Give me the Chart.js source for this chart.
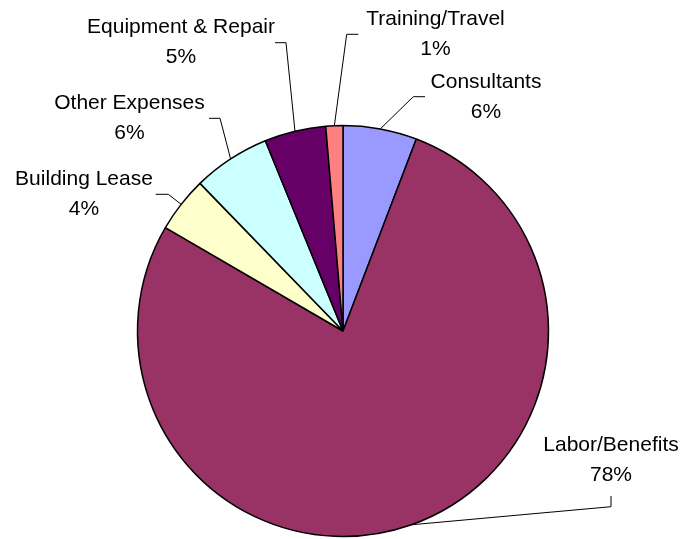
<!DOCTYPE html>
<html>
<head>
<meta charset="utf-8">
<script src="https://cdn.jsdelivr.net/npm/chart.js@4/dist/chart.umd.min.js"></script>
<style>
  html, body { margin: 0; padding: 0; background: #fff; }
  #wrap { width: 700px; height: 539px; position: relative; }
</style>
</head>
<body>
<div id="wrap"><canvas id="c" width="700" height="539"></canvas></div>
<script>
// ---- data ----
const categories = ['Consultants', 'Labor/Benefits', 'Building Lease', 'Other Expenses', 'Equipment & Repair', 'Training/Travel'];
const values = [5.81, 77.6, 4.37, 6.08, 4.83, 1.34];
const colors = ['#9999FF', '#993366', '#FFFFCC', '#CCFFFF', '#660066', '#FF8080'];

// label layout (offsets relative to pie centre): text centre x / first baseline, leader elbow, leader end
const labelLayout = [
  { text: [143, -243.3],  elbow: [70.3, -234.3],   end: [82, -234.3] },
  { text: [268, 119.7],   elbow: [268, 175.7],     end: [268, 165] },
  { text: [-259, -146],   elbow: [-174.7, -136.7], end: [-187.3, -136.7] },
  { text: [-213.5, -221.7], elbow: [-123, -212.7], end: [-134, -212.7] },
  { text: [-162, -298],   elbow: [-57, -288.3],    end: [-68, -288.3] },
  { text: [92.5, -306],   elbow: [3.7, -296.7],    end: [15.3, -296.7] }
];

const outsideLabels = {
  id: 'outsideLabels',
  afterDatasetsDraw(chart) {
    const ctx = chart.ctx;
    const meta = chart.getDatasetMeta(0);
    const data = chart.data.datasets[0].data;
    const total = data.reduce((a, b) => a + b, 0);
    ctx.save();
    meta.data.forEach((arc, i) => {
      const p = arc.getProps(['x', 'y', 'startAngle', 'endAngle', 'outerRadius'], true);
      const cx = p.x, cy = p.y;
      const mid = (p.startAngle + p.endAngle) / 2;
      const ax = cx + Math.cos(mid) * p.outerRadius;
      const ay = cy + Math.sin(mid) * p.outerRadius;
      const L = labelLayout[i];
      ctx.strokeStyle = '#000';
      ctx.lineWidth = 1;
      ctx.beginPath();
      ctx.moveTo(ax, ay);
      ctx.lineTo(cx + L.elbow[0], cy + L.elbow[1]);
      ctx.lineTo(cx + L.end[0], cy + L.end[1]);
      ctx.stroke();
      ctx.fillStyle = '#000';
      ctx.font = '21px "Liberation Sans", Arial, sans-serif';
      ctx.textAlign = 'center';
      ctx.textBaseline = 'alphabetic';
      const tx = cx + L.text[0], ty = cy + L.text[1];
      ctx.fillText(chart.data.labels[i], tx, ty);
      ctx.fillText(Math.round(data[i] / total * 100) + '%', tx, ty + 30);
    });
    ctx.restore();
  }
};

new Chart(document.getElementById('c'), {
  type: 'pie',
  data: {
    labels: categories,
    datasets: [{
      data: values,
      backgroundColor: colors,
      borderColor: '#000',
      borderWidth: 1.5
    }]
  },
  options: {
    responsive: false,
    animation: false,
    layout: { padding: { top: 124.75, bottom: 1.75, left: 100, right: 114 } },
    plugins: {
      legend: { display: false },
      tooltip: { enabled: false }
    }
  },
  plugins: [outsideLabels]
});
</script>
</body>
</html>
